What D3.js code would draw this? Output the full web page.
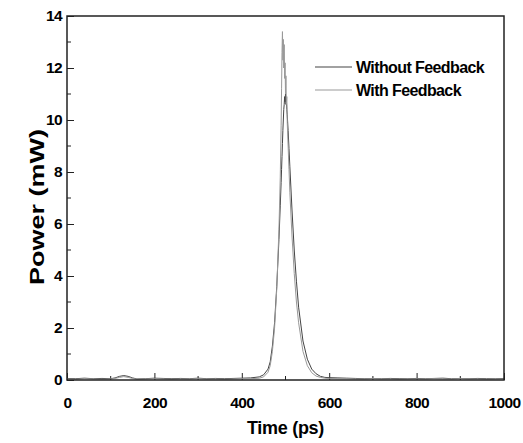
<!DOCTYPE html>
<meta charset="utf-8">
<style>
body { margin: 0; background: #fff; }
text { font-family: "Liberation Sans", Arial, sans-serif; font-weight: bold; fill: #000; }
</style>
<svg width="523" height="443"></svg>
<script src="https://cdn.jsdelivr.net/npm/d3@7"></script>
<script>

// time points (ps)
var time = [0, 20, 40, 60, 80, 100, 110, 120, 130, 140, 150, 160, 180, 200, 220, 240, 260, 280, 300, 320, 340, 360, 380, 400, 420, 440, 450, 460, 465, 470, 475, 480, 485, 488, 490, 491, 492, 493, 494, 495, 496, 497, 498, 499, 500, 501, 502, 503, 504, 506, 508, 510, 515, 520, 525, 530, 540, 550, 560, 570, 580, 590, 600, 620, 640, 660, 680, 700, 720, 740, 760, 780, 800, 820, 840, 860, 880, 900, 920, 940, 960, 980, 1000];

// power (mW) without feedback
var noFeedback = [0.06, 0.05, 0.07, 0.05, 0.06, 0.05, 0.08, 0.14, 0.17, 0.14, 0.08, 0.04, 0.05, 0.07, 0.06, 0.05, 0.06, 0.05, 0.07, 0.05, 0.06, 0.05, 0.06, 0.07, 0.08, 0.12, 0.2, 0.42, 0.7, 1.3, 2.2, 3.6, 5.4, 6.7, 7.6, 8.1, 8.6, 9.1, 9.6, 10.0, 10.4, 10.6, 10.9, 10.7, 11.0, 10.6, 10.8, 10.4, 10.2, 9.6, 8.9, 8.2, 6.5, 5.0, 3.8, 2.8, 1.5, 0.8, 0.42, 0.24, 0.14, 0.1, 0.09, 0.08, 0.07, 0.06, 0.05, 0.06, 0.05, 0.06, 0.05, 0.05, 0.06, 0.05, 0.06, 0.07, 0.05, 0.06, 0.05, 0.06, 0.05, 0.05, 0.06];

// power (mW) with feedback
var withFeedback = [0.04, 0.03, 0.05, 0.04, 0.03, 0.04, 0.06, 0.1, 0.13, 0.1, 0.06, 0.03, 0.04, 0.05, 0.04, 0.03, 0.04, 0.04, 0.05, 0.04, 0.04, 0.03, 0.04, 0.05, 0.05, 0.07, 0.12, 0.3, 0.55, 1.1, 2.0, 3.5, 5.8, 7.8, 9.8, 11.2, 12.6, 13.4, 12.3, 13.1, 12.0, 12.9, 11.6, 12.2, 11.0, 11.7, 10.6, 10.9, 9.9, 9.0, 8.1, 7.2, 5.5, 4.1, 3.0, 2.2, 1.1, 0.55, 0.28, 0.15, 0.1, 0.07, 0.06, 0.05, 0.05, 0.04, 0.04, 0.05, 0.04, 0.04, 0.03, 0.04, 0.04, 0.04, 0.05, 0.04, 0.04, 0.05, 0.04, 0.04, 0.03, 0.04, 0.04];

var xTicks = [0, 200, 400, 600, 800, 1000];
var yTicks = [0, 2, 4, 6, 8, 10, 12, 14];
var seriesNames = ["Without Feedback", "With Feedback"];
var seriesColors = ["#444", "#999"];

var svg = d3.select("svg");
var mLeft = 67, mRight = 504, mTop = 16, mBottom = 380;

var x = d3.scaleLinear().domain([0, 1000]).range([mLeft, mRight]);
var y = d3.scaleLinear().domain([0, 14]).range([mBottom, mTop]);

// minor ticks
var xMinor = d3.range(100, 1000, 200), yMinor = d3.range(1, 14, 2);
svg.append("g").selectAll("line").data(xMinor).enter().append("line")
    .attr("x1", function(d) { return x(d); }).attr("x2", function(d) { return x(d); })
    .attr("y1", mBottom).attr("y2", mBottom - 4).attr("stroke", "#222").attr("stroke-width", 1);
svg.append("g").selectAll("line").data(yMinor).enter().append("line")
    .attr("y1", function(d) { return y(d); }).attr("y2", function(d) { return y(d); })
    .attr("x1", mLeft).attr("x2", mLeft + 4).attr("stroke", "#222").attr("stroke-width", 1);

var xAxis = svg.append("g").attr("transform", "translate(0," + mBottom + ")")
    .call(d3.axisBottom(x).tickValues(xTicks).tickFormat(d3.format("d")).tickSizeInner(-7).tickSizeOuter(0).tickPadding(17));
var yAxis = svg.append("g").attr("transform", "translate(" + mLeft + ",0)")
    .call(d3.axisLeft(y).tickValues(yTicks).tickFormat(d3.format("d")).tickSizeInner(-7).tickSizeOuter(0).tickPadding(5));

[xAxis, yAxis].forEach(function(a) {
  a.select(".domain").remove();
  a.selectAll(".tick line").attr("stroke", "#222");
  a.selectAll(".tick text").attr("font-size", 15.5).attr("letter-spacing", "-0.6px")
    .attr("font-family", "Liberation Sans, Arial, sans-serif").attr("font-weight", "bold").attr("fill", "#000");
});
yAxis.selectAll(".tick text").attr("x", -5);

// series
var line0 = d3.line().x(function(d, i) { return x(time[i]); }).y(function(d) { return y(d); });
svg.append("path").datum(noFeedback).attr("d", line0)
    .attr("fill", "none").attr("stroke", seriesColors[0]).attr("stroke-width", 1);
svg.append("path").datum(withFeedback).attr("d", line0)
    .attr("fill", "none").attr("stroke", seriesColors[1]).attr("stroke-width", 1);

// frame
svg.append("rect").attr("x", mLeft).attr("y", mTop).attr("width", mRight - mLeft).attr("height", mBottom - mTop)
    .attr("fill", "none").attr("stroke", "#222").attr("stroke-width", 1.5);

// legend
var lg = svg.append("g");
seriesNames.forEach(function(n, i) {
  var yy = 67 + i * 23;
  lg.append("line").attr("x1", 315).attr("x2", 352).attr("y1", yy).attr("y2", yy)
    .attr("stroke", seriesColors[i]).attr("stroke-width", 1.2);
  lg.append("text").attr("x", 356).attr("y", yy).attr("dy", "0.36em")
    .attr("font-size", 16).attr("letter-spacing", "-0.6px").text(n);
});

// axis titles
svg.append("text").attr("x", (mLeft + mRight) / 2).attr("y", 434).attr("text-anchor", "middle")
    .attr("font-size", 18).attr("letter-spacing", "-0.3px").text("Time (ps)");
svg.append("text").attr("transform", "translate(44,207) rotate(-90)")
    .attr("text-anchor", "middle").attr("font-size", 21)
    .attr("textLength", 156).attr("lengthAdjust", "spacingAndGlyphs").text("Power (mW)");

</script>
